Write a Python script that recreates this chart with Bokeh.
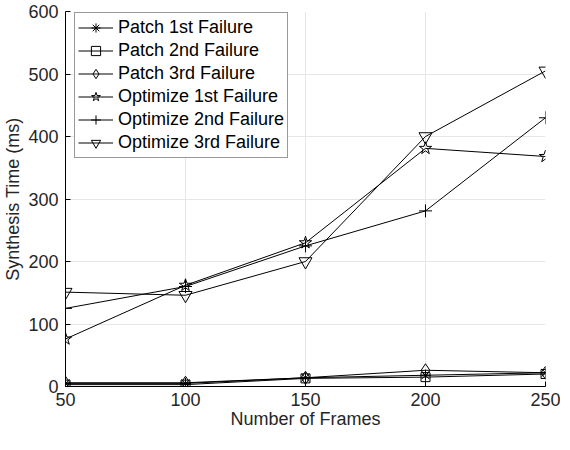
from bokeh.plotting import figure
from bokeh.embed import file_html
from bokeh.resources import INLINE
from bokeh.models import Range1d, FixedTicker, Legend, LegendItem

frames = [50, 100, 150, 200, 250]
patch_1st = [5, 5, 14, 18, 22]
patch_2nd = [3, 3, 13, 15, 20]
patch_3rd = [6, 6, 14, 26, 22]
opt_1st = [76, 162, 230, 381, 368]
opt_2nd = [125, 160, 225, 281, 430]
opt_3rd = [151, 146, 200, 400, 505]
y_ticks = [0, 100, 200, 300, 400, 500, 600]

series = [
    ("Patch 1st Failure", patch_1st, "asterisk"),
    ("Patch 2nd Failure", patch_2nd, "square"),
    ("Patch 3rd Failure", patch_3rd, "diamond"),
    ("Optimize 1st Failure", opt_1st, "star"),
    ("Optimize 2nd Failure", opt_2nd, "cross"),
    ("Optimize 3rd Failure", opt_3rd, "inverted_triangle"),
]
sizes = {"asterisk": 11, "square": 9, "diamond": 13, "star": 13, "cross": 13, "inverted_triangle": 13}

FONT = "Liberation Sans"

p = figure(width=560, height=434, output_backend="svg", toolbar_location=None,
           x_range=Range1d(50, 250), y_range=Range1d(0, 600),
           min_border_left=61, min_border_right=15, min_border_top=11, min_border_bottom=48)
p.outline_line_color = None
p.background_fill_color = "white"
p.border_fill_color = "white"

items = []
for label, ys, marker in series:
    r1 = p.line(frames, ys, line_color="black", line_width=1)
    r2 = p.scatter(frames, ys, marker=marker, size=sizes[marker], line_color="black",
                   fill_color=None, line_width=1)
    items.append(LegendItem(label=label, renderers=[r1, r2]))

legend = Legend(items=items, location=(9, 228))
legend.label_text_font = FONT
legend.label_text_font_size = "18px"
legend.label_text_color = "black"
legend.border_line_color = "#333333"
legend.border_line_width = 1
legend.background_fill_alpha = 1.0
legend.glyph_width = 35
legend.glyph_height = 23
legend.label_height = 23
legend.spacing = 0
legend.padding = 3
legend.margin = 0
legend.label_standoff = 5
p.add_layout(legend)

for ax in (p.xaxis, p.yaxis):
    ax.axis_line_color = "black"
    ax.major_tick_in = 5
    ax.major_tick_out = 0
    ax.minor_tick_line_color = None
    ax.major_tick_line_color = "black"
    ax.major_label_text_font = FONT
    ax.major_label_text_font_size = "18px"
    ax.major_label_text_color = "#262626"
    ax.axis_label_text_font = FONT
    ax.axis_label_text_font_size = "18px"
    ax.axis_label_text_font_style = "normal"
    ax.axis_label_text_color = "#262626"

p.xaxis.ticker = FixedTicker(ticks=frames)
p.yaxis.ticker = FixedTicker(ticks=y_ticks)
p.xaxis.axis_label = "Number of Frames"
p.yaxis.axis_label = "Synthesis Time (ms)"
p.xaxis.major_label_standoff = 6
p.yaxis.major_label_standoff = 7
p.xaxis.axis_label_standoff = 0
p.yaxis.axis_label_standoff = 2

p.xgrid.grid_line_color = "#e6e6e6"
p.ygrid.grid_line_color = "#e6e6e6"

open("out.html", "w").write(file_html(p, INLINE))
